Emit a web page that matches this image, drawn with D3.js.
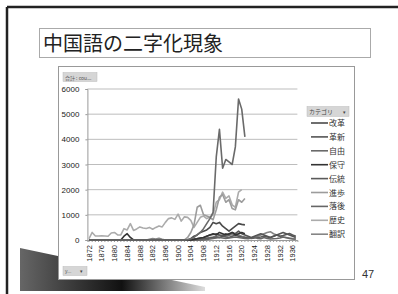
<!DOCTYPE html>
<html>
<head>
<meta charset="utf-8">
<script src="https://cdn.jsdelivr.net/npm/d3@7"></script>
<style>
  body { margin: 0; background: #fff; }
  svg { display: block; font-family: "Liberation Sans", Arial, sans-serif; }
  .jp { font-family: "Noto Sans CJK JP", sans-serif; }
</style>
</head>
<body>
<svg id="chart" width="398" height="294"></svg>
<script>
// years 1872 - 1937
const years = d3.range(1872, 1938);
const xTickYears = d3.range(1872, 1938, 4);
const yTicks = [0, 1000, 2000, 3000, 4000, 5000, 6000];

const categories = ["改革", "革新", "自由", "保守", "伝統", "進歩", "落後", "歴史", "翻訳"];
const catColors = ["#4a4a4a", "#555", "#6a6a6a", "#333", "#5a5a5a", "#9c9c9c", "#666", "#ababab", "#858585"];

// values per year, starting 1872 (null = no data)
const kaikaku = [0,0,0,0,0,0,0,0,0,0, 0,0,0,0,0,0,0,0,0,0, 0,0,0,0,0,0,0,0,0,0,
  0,0,50,150,200,300,350,400,500,700, 650,700,550,450,350,450,550,650,620,600];
const kakushin = [0,0,0,0,0,0,0,0,0,0, 0,0,0,0,0,0,0,0,0,0, 0,0,0,0,0,0,0,0,0,0,
  0,0,0,50,60,80,100,150,200,220, 250,200,150,250,200,300,250,350,250,200,
  150,100,150,200,250,200,150,100,150,200, 250,300,250,200,150,100];
const jiyu = [0,0,0,0,0,0,0,0,0,0, 0,0,0,0,0,0,0,0,0,0, 0,0,0,0,0,0,0,0,0,0,
  0,20,50,100,200,300,450,650,850,1100, 3300,4400,2850,3200,3100,3000,3700,5600,5200,4100];
const hoshu = [0,0,0,0,0,0,0,0,0,0, 0,150,250,100,0,0,0,0,0,0, 0,0,0,0,0,0,0,0,0,0,
  0,0,0,20,50,80,100,150,200,250, 200,300,250,200,250,300,200,250,300,250];
const dento = [0,0,0,0,0,0,0,0,0,0, 0,0,0,0,0,0,0,0,0,0, 0,0,0,0,0,0,0,0,0,0,
  0,0,0,0,0,20,40,60,80,100, 120,100,150,120,100,150,200,150,120,100,
  80,60,80,100,120,150,120,100,150,200, 150,180,220,260,200,150];
const shinpo = [0,0,0,0,0,0,0,0,0,0, 0,0,0,0,0,0,0,0,0,0, 0,0,0,0,0,0,0,0,0,0,
  0,100,300,600,1300,1380,1000,950,900,800, 1200,1700,1800,1500,1600,1250,1200,1600,1500,1650];
const rakugo = [0,0,0,0,0,0,0,0,0,0, 0,0,0,0,0,0,0,0,0,0, 0,0,0,0,0,0,0,0,0,0,
  0,0,0,0,0,0,0,20,40,60, 80,100,80,60,80,100,120,100,80,60,
  50,80,120,60,50,100,60,40,50,60, 80,120,90,60,40,30];
const rekishi = [50,300,160,160,170,160,150,280,300,200, 200,450,400,650,380,440,520,480,460,500,
  430,500,560,520,700,850,880,820,1030,750, 920,900,780,500,700,900,950,850,900,1000,
  1500,1600,1900,1650,1750,1400,1300,1900,2000];
const honyaku = [0,0,0,0,0,0,0,0,0,0, 0,0,0,0,0,0,0,0,0,30, 60,40,70,30,0,0,0,0,0,0,
  0,0,0,0,20,40,60,80,100,120, 150,180,200,150,180,220,250,200,150,120,
  100,80,100,150,200,250,300,330,250,200, 150,120,100,80,60,50];

const seriesValues = [kaikaku, kakushin, jiyu, hoshu, dento, shinpo, rakugo, rekishi, honyaku];

const svg = d3.select("#chart");

// slide background decoration
const defs = svg.append("defs");
const grad = defs.append("linearGradient").attr("id", "swoosh").attr("x1", "0").attr("x2", "1");
grad.append("stop").attr("offset", "0").attr("stop-color", "#666");
grad.append("stop").attr("offset", "0.55").attr("stop-color", "#111");
grad.append("stop").attr("offset", "1").attr("stop-color", "#ddd");
svg.append("path")
  .attr("d", "M20,248 L205,287 L205,291 L20,291 Z")
  .attr("fill", "url(#swoosh)");

// slide frame
svg.append("line").attr("x1", 7).attr("x2", 398).attr("y1", 7).attr("y2", 7)
  .attr("stroke", "#222").attr("stroke-width", 2.5);
svg.append("line").attr("x1", 7).attr("x2", 7).attr("y1", 7).attr("y2", 294)
  .attr("stroke", "#222").attr("stroke-width", 2.5);

// title box
svg.append("rect").attr("x", 39.5).attr("y", 28.5).attr("width", 331).attr("height", 29)
  .attr("fill", "#fff").attr("stroke", "#aaa");
svg.append("text").attr("class", "jp").attr("x", 43).attr("y", 51)
  .attr("font-size", 20).attr("fill", "#222").text("中国語の二字化現象");

// chart box
svg.append("rect").attr("x", 58.5).attr("y", 66.5).attr("width", 296).attr("height", 213)
  .attr("fill", "#fff").attr("stroke", "#999");

// pivot buttons
svg.append("rect").attr("x", 63).attr("y", 72.5).attr("width", 34).attr("height", 9)
  .attr("fill", "#d6d6d6").attr("stroke", "#bbb").attr("stroke-width", 0.5);
svg.append("text").attr("class", "jp").attr("x", 65).attr("y", 79.5)
  .attr("font-size", 5).attr("fill", "#555").text("合計 : cou...");

const plot = {left: 87.4, right: 297.4, top: 89, bottom: 240};

const x = d3.scaleBand().domain(years).range([plot.left, plot.right]);
const y = d3.scaleLinear().domain([0, 6000]).range([plot.bottom, plot.top]);

// gridlines
svg.append("g")
  .selectAll("line")
  .data(yTicks.slice(1))
  .join("line")
  .attr("x1", plot.left).attr("x2", plot.right)
  .attr("y1", d => y(d)).attr("y2", d => y(d))
  .attr("stroke", "#bdbdbd").attr("stroke-width", 1);

// y axis
const yAxis = svg.append("g")
  .attr("transform", `translate(${plot.left},0)`)
  .call(d3.axisLeft(y).tickValues(yTicks).tickFormat(d3.format("d")).tickSize(2).tickPadding(6));
yAxis.select(".domain").attr("stroke", "#999");
yAxis.selectAll(".tick line").attr("stroke", "#999");
yAxis.selectAll("text").attr("font-size", 8).attr("fill", "#222")
  .attr("font-family", "Liberation Sans, Arial, sans-serif");

// x axis
const xAxis = svg.append("g")
  .attr("transform", `translate(0,${plot.bottom})`)
  .call(d3.axisBottom(x).tickSize(2).tickFormat(d => xTickYears.includes(d) ? d : ""));
xAxis.select(".domain").attr("stroke", "#999");
xAxis.selectAll(".tick line").attr("stroke", "#999");
xAxis.selectAll("text")
  .attr("font-size", 7.5).attr("fill", "#222")
  .attr("font-family", "Liberation Sans, Arial, sans-serif")
  .attr("text-anchor", "end")
  .attr("transform", "rotate(-90)")
  .attr("x", -5).attr("y", 0).attr("dy", "0.35em");

// series lines
const line = d3.line()
  .defined(d => d.v !== null && d.v !== undefined)
  .x(d => x(d.year) + x.bandwidth() / 2)
  .y(d => y(d.v));

const drawOrder = [7, 5, 8, 4, 6, 1, 3, 0, 2];
drawOrder.forEach(i => {
  const pts = years.map((yr, k) => ({year: yr, v: seriesValues[i][k]}));
  svg.append("path")
    .datum(pts)
    .attr("fill", "none")
    .attr("stroke", catColors[i])
    .attr("stroke-width", 1.6)
    .attr("stroke-linejoin", "round")
    .attr("d", line);
});

// legend
svg.append("rect").attr("x", 307).attr("y", 106.5).attr("width", 42).attr("height", 10)
  .attr("fill", "#d6d6d6").attr("stroke", "#bbb").attr("stroke-width", 0.5);
svg.append("text").attr("class", "jp").attr("x", 309).attr("y", 114)
  .attr("font-size", 6).attr("fill", "#444").text("カテゴリ");
svg.append("text").attr("x", 343).attr("y", 114)
  .attr("font-size", 5).attr("fill", "#444").text("▾");

const legend = svg.append("g")
  .selectAll("g")
  .data(categories)
  .join("g")
  .attr("transform", (d, i) => `translate(0,${123 + i * 13.9})`);
legend.append("line")
  .attr("x1", 311).attr("x2", 328).attr("y1", 0).attr("y2", 0)
  .attr("stroke", (d, i) => catColors[i]).attr("stroke-width", 1.6);
legend.append("text")
  .attr("class", "jp")
  .attr("x", 329).attr("y", 3)
  .attr("font-size", 8).attr("fill", "#333")
  .text(d => d);

// bottom-left field button
svg.append("rect").attr("x", 63).attr("y", 266.5).attr("width", 24).attr("height", 9)
  .attr("fill", "#d6d6d6").attr("stroke", "#bbb").attr("stroke-width", 0.5);
svg.append("text").attr("x", 65).attr("y", 273)
  .attr("font-size", 5).attr("fill", "#555").text("y...");
svg.append("text").attr("x", 80).attr("y", 273)
  .attr("font-size", 5).attr("fill", "#444").text("▾");

// page number
svg.append("text").attr("x", 362).attr("y", 278)
  .attr("font-size", 11).attr("fill", "#333").text("47");
</script>
</body>
</html>
